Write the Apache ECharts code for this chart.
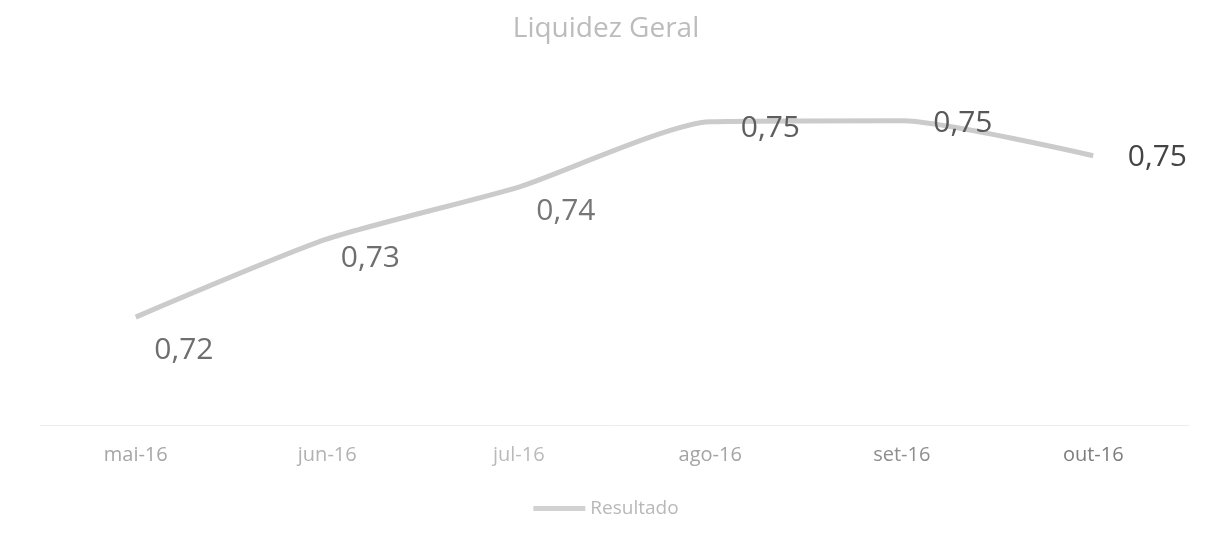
<!DOCTYPE html>
<html>
<head>
<meta charset="utf-8">
<script src="https://cdn.jsdelivr.net/npm/echarts@6/dist/echarts.min.js"></script>
<style>
  html, body { margin: 0; padding: 0; background: #fff; }
  #chart { width: 1212px; height: 539px; }
</style>
</head>
<body>
<div id="chart"></div>
<script>
const months = ["mai-16", "jun-16", "jul-16", "ago-16", "set-16", "out-16"];
const resultado = [0.716, 0.7312, 0.7413, 0.754, 0.7542, 0.7474];
// label nudges [dx, dy] per point
const labelShift = [[13, 33], [8, 19], [12, 24], [25, 7], [26, 3], [29, 2]];
const monthColors = ["#a6a6a6", "#b2b2b2", "#bababa", "#a4a4a4", "#8e8e8e", "#7c7c7c"];
const valueColors = ["#6e6e6e", "#6e6e6e", "#767676", "#5e5e5e", "#585858", "#444444"];

const fmt = (v) => v.toFixed(2).replace(".", ",");

const chart = echarts.init(document.getElementById("chart"));

chart.setOption({
  animation: false,
  title: {
    text: "Liquidez Geral",
    left: "center",
    top: 10,
    textStyle: { color: "#bcbcbc", fontSize: 28, fontWeight: "normal", fontFamily: "Open Sans" }
  },
  legend: {
    bottom: 16,
    left: "center",
    itemWidth: 52,
    itemHeight: 5,
    itemGap: 6,
    icon: "rect",
    textStyle: { color: "#b8b8b8", fontSize: 19, fontFamily: "Open Sans" },
    data: [{ name: "Resultado", itemStyle: { color: "#d2d2d2", opacity: 1 } }]
  },
  grid: { left: 40, right: 23, top: 91, bottom: 114 },
  xAxis: {
    type: "category",
    data: months,
    boundaryGap: true,
    axisLine: { show: true, lineStyle: { color: "#ededed", width: 1 } },
    axisTick: { show: false },
    axisLabel: {
      margin: 20,
      fontSize: 20,
      fontFamily: "Open Sans",
      color: (val, i) => monthColors[i]
    }
  },
  yAxis: {
    type: "value",
    min: 0.695,
    max: 0.76,
    show: false,
    splitLine: { show: false }
  },
  series: [{
    name: "Resultado",
    type: "line",
    smooth: 0.2,
    symbol: "circle",
    symbolSize: 1,
    showSymbol: true,
    lineStyle: { color: "#cbcbcb", width: 5 },
    itemStyle: { color: "rgba(203,203,203,0)" },
    data: resultado.map((v, i) => ({
      value: v,
      label: {
        show: true,
        position: "right",
        distance: 5,
        offset: labelShift[i],
        formatter: (p) => fmt(p.value),
        color: valueColors[i],
        fontSize: 30,
        fontFamily: "Open Sans"
      }
    }))
  }]
});
</script>
</body>
</html>
